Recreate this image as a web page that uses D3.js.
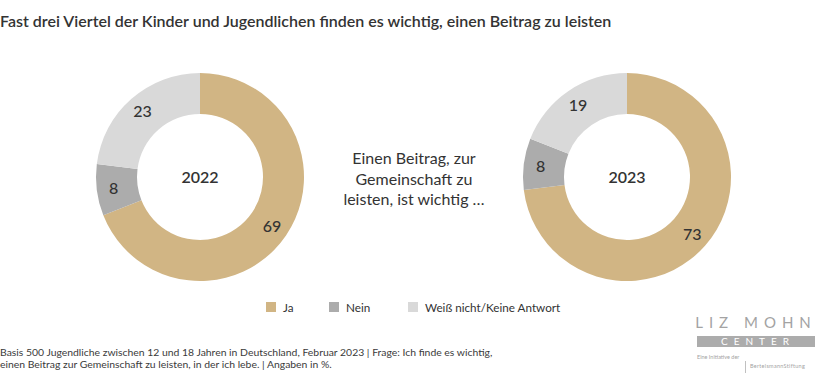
<!DOCTYPE html>
<html>
<head>
<meta charset="utf-8">
<script src="https://cdn.jsdelivr.net/npm/d3@7"></script>
<style>
  body { margin: 0; background: #fff; }
  svg { display: block; }
</style>
</head>
<body>
<div id="chart"></div>
<script>
const width = 828;
const height = 389;
const fontFamily = "Lato, 'Noto Sans', sans-serif";
const textColor = "#333333";

// Data
const categories = ["Ja", "Nein", "Weiß nicht/Keine Antwort"];
const colors = ["#d1b584", "#acacac", "#d9d9d9"];
const years = ["2022", "2023"];
const values2022 = [69, 8, 23];
const values2023 = [73, 8, 19];
const seriesValues = [values2022, values2023];

const svg = d3.select("#chart").append("svg")
  .attr("width", width)
  .attr("height", height)
  .style("font-family", fontFamily);

// Title
svg.append("text")
  .attr("x", 0)
  .attr("y", 27)
  .attr("fill", textColor)
  .attr("font-size", "16px")
  .attr("font-weight", 600)
  .text("Fast drei Viertel der Kinder und Jugendlichen finden es wichtig, einen Beitrag zu leisten");

// Donuts
const centers = [{ x: 200, y: 177 }, { x: 627, y: 177 }];
const outerR = 104;
const innerR = 63;

const pie = d3.pie().sort(null).value(d => d);
const arc = d3.arc().innerRadius(innerR).outerRadius(outerR);
const labelArc = d3.arc().innerRadius(87).outerRadius(87);

seriesValues.forEach((vals, i) => {
  const g = svg.append("g")
    .attr("transform", `translate(${centers[i].x},${centers[i].y})`);

  const arcs = pie(vals);

  g.selectAll("path")
    .data(arcs)
    .enter()
    .append("path")
    .attr("d", arc)
    .attr("fill", (d, j) => colors[j]);

  g.selectAll("text.val")
    .data(arcs)
    .enter()
    .append("text")
    .attr("class", "val")
    .attr("transform", d => `translate(${labelArc.centroid(d)})`)
    .attr("text-anchor", "middle")
    .attr("dy", "0.35em")
    .attr("fill", textColor)
    .attr("font-size", "16px")
    .attr("font-weight", 500)
    .text(d => d.data);

  g.append("text")
    .attr("text-anchor", "middle")
    .attr("dy", "0.35em")
    .attr("fill", textColor)
    .attr("font-size", "16px")
    .attr("font-weight", 600)
    .text(years[i]);
});

// Middle text
const middleLines = ["Einen Beitrag, zur", "Gemeinschaft zu", "leisten, ist wichtig …"];
svg.append("g")
  .selectAll("text")
  .data(middleLines)
  .enter()
  .append("text")
  .attr("x", 414)
  .attr("y", (d, i) => 164 + i * 20.5)
  .attr("text-anchor", "middle")
  .attr("fill", textColor)
  .attr("font-size", "16px")
  .text(d => d);

// Legend
const legendX = [266, 329, 408];
const legend = svg.append("g")
  .selectAll("g")
  .data(categories)
  .enter()
  .append("g")
  .attr("transform", (d, i) => `translate(${legendX[i]},302)`);

legend.append("rect")
  .attr("width", 10)
  .attr("height", 10)
  .attr("fill", (d, i) => colors[i]);

legend.append("text")
  .attr("x", 17)
  .attr("y", 9.5)
  .attr("fill", textColor)
  .attr("font-size", "11.7px")
  .text(d => d);

// Footer
const footerLines = [
  "Basis 500 Jugendliche zwischen 12 und 18 Jahren in Deutschland, Februar 2023 | Frage: Ich finde es wichtig,",
  "einen Beitrag zur Gemeinschaft zu leisten, in der ich lebe. | Angaben in %."
];
svg.append("g")
  .selectAll("text")
  .data(footerLines)
  .enter()
  .append("text")
  .attr("x", 0)
  .attr("y", (d, i) => 356 + i * 12)
  .attr("fill", "#3a3a3a")
  .attr("font-size", "10.4px")
  .text(d => d);

// Logo
const logo = svg.append("g").attr("fill", "#a3a3a3");
logo.append("text")
  .attr("x", 756)
  .attr("y", 328)
  .attr("text-anchor", "middle")
  .attr("font-size", "15px")
  .attr("letter-spacing", "6px")
  .text("LIZ MOHN");
logo.append("rect")
  .attr("x", 697)
  .attr("y", 336)
  .attr("width", 118)
  .attr("height", 11)
  .attr("fill", "#acacac");
logo.append("text")
  .attr("x", 758)
  .attr("y", 345)
  .attr("text-anchor", "middle")
  .attr("font-size", "10px")
  .attr("letter-spacing", "6px")
  .attr("fill", "#ffffff")
  .text("CENTER");
logo.append("text")
  .attr("x", 697)
  .attr("y", 359)
  .attr("font-size", "5.5px")
  .text("Eine Initiative der");
logo.append("line")
  .attr("x1", 745.5)
  .attr("x2", 745.5)
  .attr("y1", 361)
  .attr("y2", 373)
  .attr("stroke", "#b0b0b0")
  .attr("stroke-width", 0.8);
logo.append("text")
  .attr("x", 750)
  .attr("y", 368)
  .attr("font-size", "5.5px")
  .attr("letter-spacing", "0.3px")
  .text("BertelsmannStiftung");
</script>
</body>
</html>
